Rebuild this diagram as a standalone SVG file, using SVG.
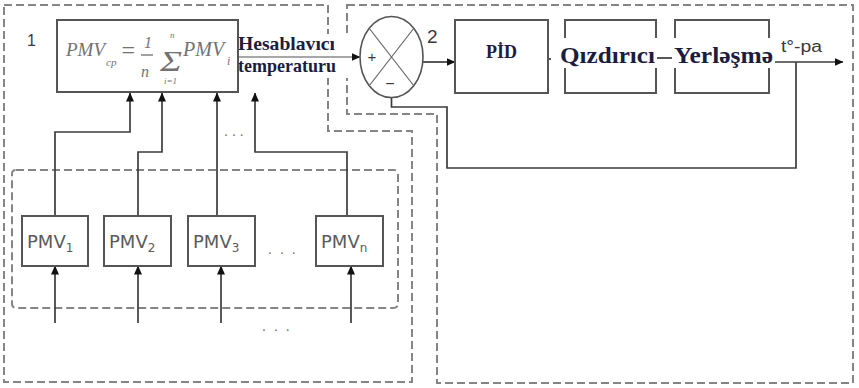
<svg xmlns="http://www.w3.org/2000/svg" width="859" height="388" viewBox="0 0 859 388">
<style>
.dash{fill:none;stroke:#858585;stroke-width:2;stroke-dasharray:8 4}
.box{fill:#fff;stroke:#555;stroke-width:2}
.ln{fill:none;stroke:#3c3c3c;stroke-width:1.7}
.arr{marker-end:url(#ah)}
.fm{font-family:"Liberation Serif",serif;font-style:italic;fill:#727272}
.lbl{font-family:"Liberation Serif",serif;font-weight:bold;fill:#1c1c3e}
.pmv{font-family:"DejaVu Sans",sans-serif;font-size:18px;fill:#5a5a5a}
.sans{font-family:"Liberation Sans",sans-serif;fill:#3a3a3a}
.dots{font-family:"Liberation Sans",sans-serif;font-size:14px;fill:#666}
</style>
<defs>
<marker id="ah" markerWidth="9" markerHeight="8" refX="8.5" refY="4" orient="auto" markerUnits="userSpaceOnUse">
<path d="M0,0 L9,4 L0,8 z" fill="#111"/>
</marker>
</defs>
<rect width="859" height="388" fill="#fff"/>

<g id="region1">
<path class="dash" d="M4,5 H328 V131 H412 V382 H4 Z"/>
</g>
<g id="region2">
<path class="dash" d="M347,5 H853 V383 H437 V114 H347 Z"/>
</g>
<g id="pmv-group">
<rect class="dash" x="12" y="170" width="386" height="138" rx="4"/>
</g>

<g id="connectors">
<path class="ln arr" d="M55,216 V132 H130 V93"/>
<path class="ln arr" d="M138,216 V152 H162 V93"/>
<path class="ln arr" d="M217,216 V93"/>
<path class="ln arr" d="M347,216 V152 H255 V93"/>
<path class="ln arr" d="M55,323 V266"/>
<path class="ln arr" d="M138,323 V266"/>
<path class="ln arr" d="M221,323 V266"/>
<path class="ln arr" d="M351,323 V266"/>
<path class="ln arr" d="M423,62 H455"/>
<path class="ln" d="M548,59 H566"/>
<path class="ln" d="M656,58 H675"/>
<path class="ln" d="M391.5,97.5 V107 H447 V168 H796 V62"/>
</g>

<g id="pid">
<rect class="box" x="455" y="20" width="93" height="73"/>
<text class="lbl" x="486" y="58" font-size="18" textLength="31" lengthAdjust="spacingAndGlyphs">PİD</text>
</g>
<g id="heater">
<rect class="box" x="565" y="20" width="91" height="73"/>
<rect x="551" y="38" width="106" height="30" fill="#fff"/>
<text class="lbl" x="560" y="63" font-size="23" textLength="95" lengthAdjust="spacingAndGlyphs">Qızdırıcı</text>
</g>
<g id="placement">
<rect class="box" x="675" y="20" width="94" height="73"/>
<rect x="672" y="38" width="104" height="30" fill="#fff"/>
<text class="lbl" x="674" y="63" font-size="23" textLength="99" lengthAdjust="spacingAndGlyphs">Yerləşmə</text>
</g>
<g id="output">
<path class="ln arr" d="M775,62 H843"/>
<text class="sans" x="781" y="52" font-size="16" textLength="41" lengthAdjust="spacingAndGlyphs">t°-pa</text>
</g>

<g id="label-temp">
<rect x="237" y="34" width="114" height="44" fill="#fff"/>
<path class="arr" d="M238,57 H360" stroke="#8a8a8a" stroke-width="1.3" fill="none"/>
<text class="lbl" x="238" y="50" font-size="19" textLength="97" lengthAdjust="spacingAndGlyphs">Hesablavıcı</text>
<text class="lbl" x="238" y="72" font-size="19" textLength="98" lengthAdjust="spacingAndGlyphs">temperaturu</text>
</g>

<g id="sum">
<ellipse cx="391.5" cy="57" rx="31.5" ry="40.5" fill="#fff" stroke="#555" stroke-width="1.6"/>
<path d="M369,28 L414,86 M414,28 L369,86" stroke="#666" stroke-width="1.2"/>
<text class="sans" x="372" y="62" font-size="15" text-anchor="middle">+</text>
<text class="sans" x="390" y="89" font-size="16" text-anchor="middle">−</text>
<text class="sans" x="427" y="43" font-size="19">2</text>
</g>

<g id="formula">
<rect class="box" x="57" y="20" width="181" height="72"/>
<text class="sans" x="27" y="46" font-size="16">1</text>
<text class="fm" x="66" y="56" font-size="19">PMV</text>
<text class="fm" x="106" y="66" font-size="11">cp</text>
<text class="fm" x="120" y="58" font-size="24" font-style="normal">=</text>
<text class="fm" x="144" y="48" font-size="16" font-style="normal">1</text>
<path d="M141,55 H153" stroke="#777" stroke-width="1.4"/>
<text class="fm" x="141" y="77" font-size="16">n</text>
<text class="fm" x="170" y="38" font-size="9">n</text>
<text class="fm" x="160" y="71" font-size="30" font-style="normal" textLength="22" lengthAdjust="spacingAndGlyphs">Σ</text>
<text class="fm" x="164" y="84" font-size="9">i=1</text>
<text class="fm" x="183" y="56" font-size="20">PMV</text>
<text class="fm" x="227" y="65" font-size="12">i</text>
<text class="dots" x="224" y="136" letter-spacing="4">...</text>
</g>

<g id="pmv1">
<rect class="box" x="22" y="216" width="66" height="50"/>
<text class="pmv" x="27" y="248">PMV<tspan font-size="12" dy="4">1</tspan></text>
</g>
<g id="pmv2">
<rect class="box" x="104" y="216" width="67" height="50"/>
<text class="pmv" x="109" y="248">PMV<tspan font-size="12" dy="4">2</tspan></text>
</g>
<g id="pmv3">
<rect class="box" x="188" y="216" width="67" height="50"/>
<text class="pmv" x="193" y="248">PMV<tspan font-size="12" dy="4">3</tspan></text>
</g>
<g id="pmvn">
<rect class="box" x="316" y="216" width="67" height="50"/>
<text class="pmv" x="321" y="248">PMV<tspan font-size="12" dy="4">n</tspan></text>
</g>
<text class="dots" x="268" y="254" letter-spacing="8">...</text>
<text class="dots" x="262" y="331" letter-spacing="8">...</text>
</svg>
